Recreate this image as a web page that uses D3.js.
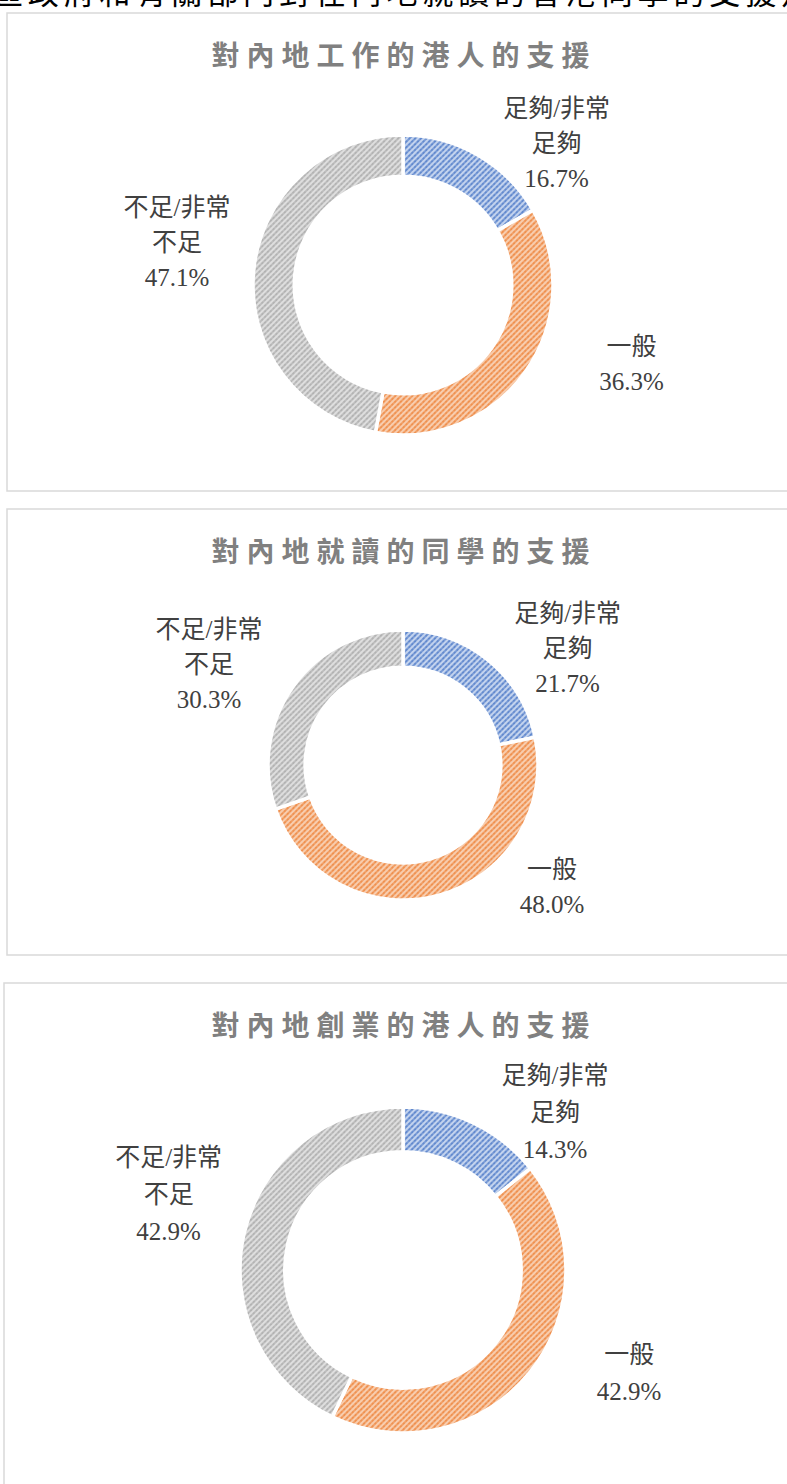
<!DOCTYPE html>
<html>
<head>
<meta charset="utf-8">
<script src="https://cdn.jsdelivr.net/npm/d3@7"></script>
<style>
  html, body { margin: 0; padding: 0; background: #fff; }
  #chart-div { width: 787px; height: 1484px; overflow: hidden; }
</style>
</head>
<body>
<div id="chart-div"></div>
<script>
// --- Data ---
const categories = ['足夠/非常足夠', '一般', '不足/非常不足'];
const labelLines = [['足夠/非常', '足夠'], ['一般'], ['不足/非常', '不足']];
const chartTitles = ['對內地工作的港人的支援', '對內地就讀的同學的支援', '對內地創業的港人的支援'];
const workValues = [16.7, 36.3, 47.1];
const studyValues = [21.7, 48.0, 30.3];
const businessValues = [14.3, 42.9, 42.9];
const seriesValues = [workValues, studyValues, businessValues];
const pageHeading = '區政府和有關部門對在內地就讀的香港同學的支援足';

// --- Layout (not data) ---
const layout = [
  { x: 7, y: 13, h: 478, cy: 285, r: 150, fs: 25, lh: 35, nudges: [[41, 53], [45, -51], [-2, -22]] },
  { x: 7, y: 509, h: 446, cy: 765, r: 135, fs: 25, lh: 35, nudges: [[37, 40], [95, -73], [-29, 17]] },
  { x: 4, y: 983, h: 560, cy: 1270, r: 163, fs: 25, lh: 37, nudges: [[46, 63], [35, -50], [4, -21]] }
];
const cx = 403;
const sliceColors = ['#4472C4', '#ED7D31', '#A5A5A5'];
const sliceBase = ['#c3d3ee', '#f8cdae', '#dedede'];

const svg = d3.select('#chart-div')
  .append('svg')
  .attr('width', 787)
  .attr('height', 1484);

// --- Stripe patterns ---
const defs = svg.append('defs');
sliceColors.forEach((c, i) => {
  const p = defs.append('pattern')
    .attr('id', `stripe-${i}`)
    .attr('patternUnits', 'userSpaceOnUse')
    .attr('width', 4)
    .attr('height', 4)
    .attr('patternTransform', 'rotate(45)');
  p.append('rect').attr('width', 4).attr('height', 4).attr('fill', sliceBase[i]);
  p.append('line')
    .attr('x1', 1).attr('y1', 0).attr('x2', 1).attr('y2', 4)
    .attr('stroke', c)
    .attr('stroke-width', 1.5)
    .attr('stroke-dasharray', '1.7 0.5');
});

// --- Cut-off heading at top ---
svg.append('text')
  .attr('x', -8)
  .attr('y', 4)
  .attr('textLength', 820)
  .style('font-family', '"Noto Sans CJK TC", sans-serif')
  .style('font-size', '31px')
  .style('fill', '#000')
  .text(pageHeading);

const pie = d3.pie().value(d => d).sort(null);

seriesValues.forEach((values, ci) => {
  const L = layout[ci];

  // panel frame
  svg.append('rect')
    .attr('x', L.x)
    .attr('y', L.y)
    .attr('width', 820)
    .attr('height', L.h)
    .attr('fill', '#fff')
    .attr('stroke', '#d9d9d9')
    .attr('stroke-width', 1.5);

  // title
  svg.append('text')
    .attr('x', 404)
    .attr('y', L.y + 53)
    .attr('text-anchor', 'middle')
    .style('font-family', '"Noto Sans CJK TC", sans-serif')
    .style('font-size', '28px')
    .style('font-weight', 'bold')
    .style('letter-spacing', '7px')
    .style('fill', '#808080')
    .text(chartTitles[ci]);

  const g = svg.append('g').attr('transform', `translate(${cx},${L.cy})`);

  const arc = d3.arc().innerRadius(L.r * 0.725).outerRadius(L.r);
  const labelArc = d3.arc().innerRadius(L.r * 1.5).outerRadius(L.r * 1.5);
  const arcs = pie(values);

  g.selectAll('path')
    .data(arcs)
    .enter().append('path')
    .attr('d', arc)
    .attr('fill', (d, i) => `url(#stripe-${i})`)
    .attr('stroke', '#fff')
    .attr('stroke-width', 3.5);

  // labels
  arcs.forEach((d, i) => {
    const [lx, ly] = labelArc.centroid(d);
    const [nx, ny] = L.nudges[i];
    const lines = labelLines[i].concat([d3.format('.1f')(d.data) + '%']);
    const top = ly + ny - (lines.length - 1) / 2 * L.lh;
    const t = g.append('text')
      .attr('text-anchor', 'middle')
      .style('font-family', '"Liberation Serif", "Noto Sans CJK TC", serif')
      .style('font-size', L.fs + 'px')
      .style('fill', '#404040');
    lines.forEach((line, k) => {
      t.append('tspan')
        .attr('x', lx + nx)
        .attr('y', top + k * L.lh)
        .attr('dy', '0.35em')
        .text(line);
    });
  });
});
</script>
</body>
</html>
